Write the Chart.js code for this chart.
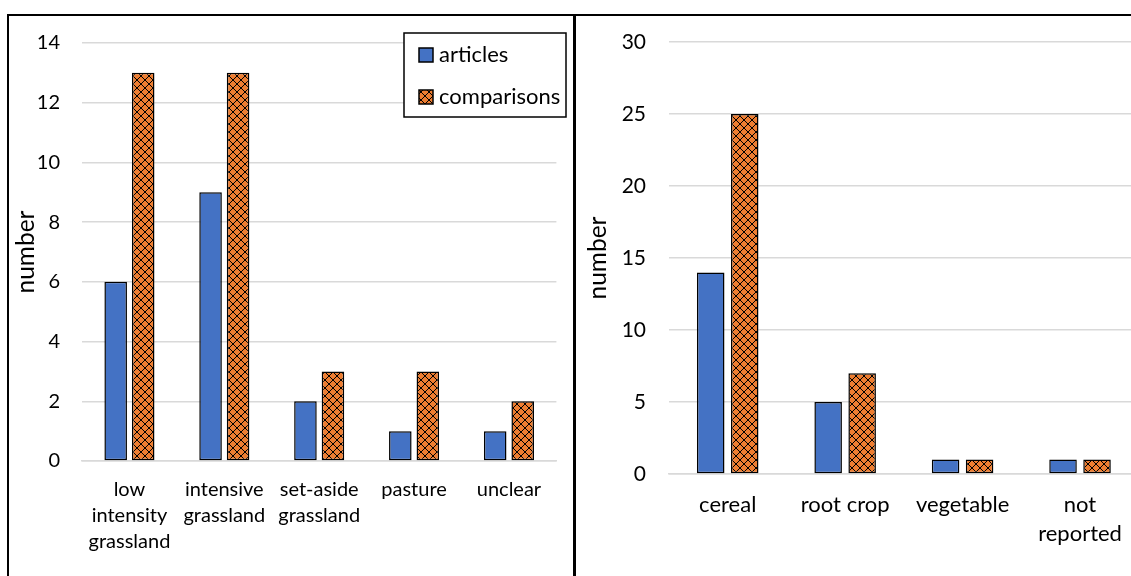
<!DOCTYPE html>
<html>
<head>
<meta charset="utf-8">
<script src="https://cdn.jsdelivr.net/npm/chart.js@4.4.1/dist/chart.umd.min.js"></script>
<style>
  html, body { margin: 0; padding: 0; background: #fff; overflow: hidden; width: 1131px; height: 576px; }
  .rule { position: absolute; background: #000; }
  canvas { position: absolute; }
</style>
</head>
<body>
<div class="rule" style="left:7px; top:14px; width:1124px; height:2px"></div>
<div class="rule" style="left:7px; top:14px; width:2px; height:562px"></div>
<div class="rule" style="left:573px; top:14px; width:3px; height:562px"></div>
<div style="position:absolute; left:9px; top:16px; width:564px; height:560px">
  <canvas id="habitat" width="564" height="560" style="left:0; top:0; width:564px; height:560px"></canvas>
</div>
<div style="position:absolute; left:576px; top:16px; width:555px; height:560px; overflow:hidden">
  <canvas id="crop" width="600" height="560" style="left:0; top:0; width:600px; height:560px"></canvas>
</div>
<script>
// Grassland habitats
const habitatLabels = [['low', 'intensity', 'grassland'], ['intensive', 'grassland'], ['set-aside', 'grassland'], 'pasture', 'unclear'];
const habitatArticles = [6, 9, 2, 1, 1];
const habitatComparisons = [13, 13, 3, 3, 2];
const habitatTicks = { min: 0, max: 14, step: 2 };

// Arable crops
const cropLabels = ['cereal', 'root crop', 'vegetable', ['not', 'reported']];
const cropArticles = [14, 5, 1, 1];
const cropComparisons = [25, 7, 1, 1];
const cropTicks = { min: 0, max: 30, step: 5 };

const seriesNames = ['articles', 'comparisons'];

const FONT = 'Lato, "Open Sans", sans-serif';
const BLUE = '#4472C4';
const ORANGE = '#ED7D31';
const GRID = '#D9D9D9';

// orange fill with a crisp 1px black diamond cross-hatch
function hatchPattern(ctx) {
  const n = 8;
  const tile = document.createElement('canvas');
  tile.width = n; tile.height = n;
  const t = tile.getContext('2d');
  t.fillStyle = ORANGE;
  t.fillRect(0, 0, n, n);
  t.fillStyle = '#000';
  for (let i = 0; i < n; i++) {
    t.fillRect(i, i, 1, 1);
    t.fillRect(n - 1 - i, i, 1, 1);
  }
  return ctx.createPattern(tile, 'repeat');
}

// legend box drawn inside the plot area
const insetLegend = {
  id: 'insetLegend',
  afterDraw(chart, args, o) {
    if (!o || !o.show) return;
    const ctx = chart.ctx;
    ctx.save();
    ctx.fillStyle = '#fff';
    ctx.fillRect(o.x, o.y, o.w, o.h);
    ctx.strokeStyle = '#000';
    ctx.lineWidth = 1.5;
    ctx.strokeRect(o.x, o.y, o.w, o.h);
    ctx.font = o.fontSize + 'px ' + FONT;
    ctx.textBaseline = 'middle';
    ctx.textAlign = 'left';
    chart.data.datasets.forEach((ds, i) => {
      const cy = o.rows[i];
      ctx.fillStyle = ds.backgroundColor;
      ctx.fillRect(o.sx, cy - o.s / 2, o.s, o.s);
      ctx.strokeStyle = '#000';
      ctx.lineWidth = 1.5;
      ctx.strokeRect(o.sx, cy - o.s / 2, o.s, o.s);
      ctx.fillStyle = '#000';
      ctx.fillText(ds.label, o.tx, cy);
    });
    ctx.restore();
  }
};

function makeChart(id, labels, a, b, ticks, L) {
  const ctx = document.getElementById(id).getContext('2d');
  return new Chart(ctx, {
    type: 'bar',
    data: {
      labels: labels,
      datasets: [
        { label: seriesNames[0], data: a, backgroundColor: BLUE, borderColor: '#000', borderWidth: 1.5, borderSkipped: false },
        { label: seriesNames[1], data: b, backgroundColor: hatchPattern(ctx), borderColor: '#000', borderWidth: 1.5, borderSkipped: false }
      ]
    },
    options: {
      responsive: false,
      animation: false,
      devicePixelRatio: 1,
      categoryPercentage: L.cat,
      barPercentage: L.bar,
      layout: { padding: { left: 0, right: L.padRight, top: L.padTop, bottom: 0 } },
      plugins: {
        legend: { display: false },
        tooltip: { enabled: false },
        insetLegend: L.legend
      },
      scales: {
        x: {
          grid: { display: false },
          border: { display: true, color: GRID, width: 1.5 },
          ticks: { color: '#000', font: { family: FONT, size: L.catSize, lineHeight: L.catLine }, padding: L.catPad, maxRotation: 0, autoSkip: false },
          afterFit(s) { s.height = L.xHeight; }
        },
        y: {
          min: ticks.min, max: ticks.max,
          grid: { color: GRID, lineWidth: 1.5, drawTicks: false },
          border: { display: false },
          ticks: { stepSize: ticks.step, color: '#000', font: { family: FONT, size: L.tickSize }, padding: L.tickPad },
          title: { display: true, text: 'number', color: '#000', font: { family: FONT, size: L.titleSize }, padding: { top: L.titlePad, bottom: 0 } },
          afterFit(s) {
            s.width = L.yWidth;
            // the plot edges are set by the layout padding alone
            s.paddingTop = 0;
            s.paddingBottom = 0;
          }
        }
      }
    },
    plugins: [insetLegend]
  });
}

makeChart('habitat', habitatLabels, habitatArticles, habitatComparisons, habitatTicks, {
  cat: 0.58, bar: 0.82, padRight: 16.6, padTop: 27,
  xHeight: 115, yWidth: 73,
  catSize: 20, catLine: 1.3, catPad: 8,
  tickSize: 20, tickPad: 22, titleSize: 24.5, titlePad: 2,
  legend: { show: true, x: 395, y: 17, w: 162, h: 84, sx: 410, s: 14, tx: 430, rows: [39, 81], fontSize: 22 }
});

makeChart('crop', cropLabels, cropArticles, cropComparisons, cropTicks, {
  cat: 0.579, bar: 0.81, padRight: 37.25, padTop: 26,
  xHeight: 102, yWidth: 93,
  catSize: 22, catLine: 1.3, catPad: 9,
  tickSize: 21, tickPad: 23, titleSize: 24.5, titlePad: 7,
  legend: { show: false }
});
</script>
</body>
</html>
